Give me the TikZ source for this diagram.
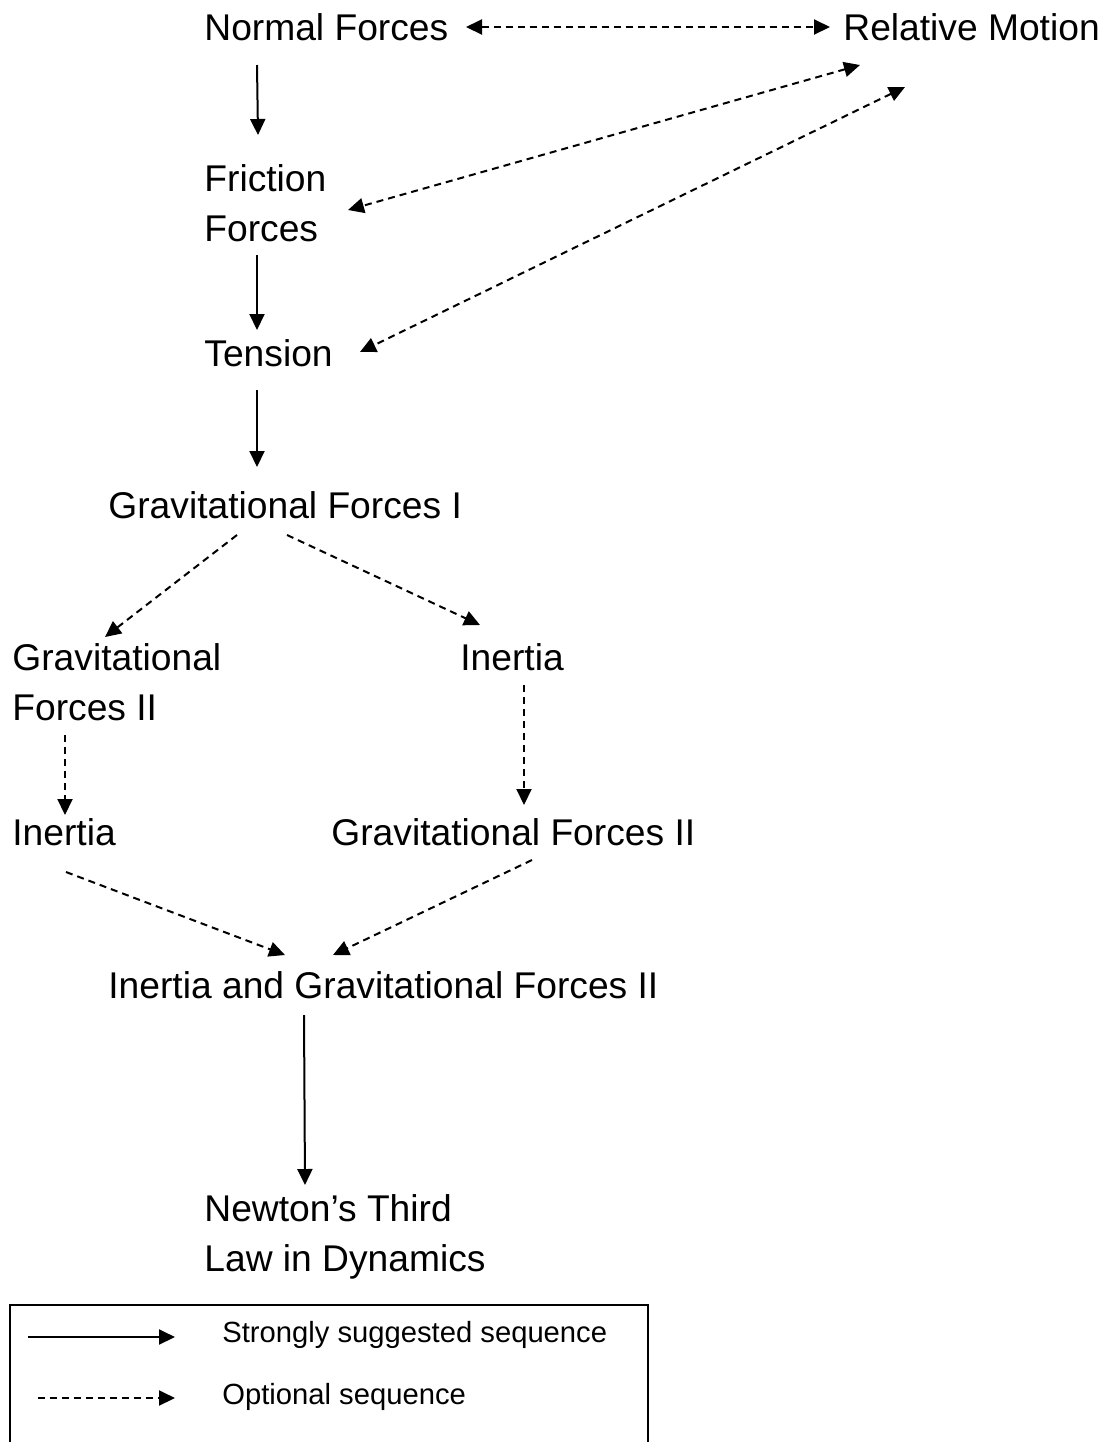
\documentclass[tikz,border=0pt]{standalone}
\usepackage{fontspec}
\setmainfont{Liberation Sans}
\usetikzlibrary{arrows.meta}

\begin{document}
\begin{tikzpicture}[x=0.5pt, y=-0.5pt,
  topic/.style={anchor=west, inner sep=0pt, align=left, font=\fontsize{18.6}{25}\selectfont},
  keytext/.style={anchor=west, inner sep=0pt, font=\fontsize{14.6}{18}\selectfont},
  strong/.style={-{Triangle[length=8pt, width=7.5pt]}, line width=1pt},
  opt/.style={strong, dash pattern=on 3.5pt off 2.5pt},
  optboth/.style={opt, {Triangle[length=8pt, width=7.5pt]}-{Triangle[length=8pt, width=7.5pt]}}]
  \useasboundingbox (0,0) rectangle (1104,1442);

  % topics
  \node[topic] (nf) at (204,27) {Normal Forces};
  \node[topic] (rm) at (843,27) {Relative Motion};
  \node[topic] (fr) at (204,203) {Friction\\Forces};
  \node[topic] (tn) at (204,353) {Tension};
  \node[topic] (g1) at (108,505) {Gravitational Forces I};
  \node[topic] (g2a) at (12,682) {Gravitational\\Forces II};
  \node[topic] (inr) at (460,657) {Inertia};
  \node[topic] (inl) at (12,832) {Inertia};
  \node[topic] (g2b) at (331,832) {Gravitational Forces II};
  \node[topic] (ig) at (108,985) {Inertia and Gravitational Forces II};
  \node[topic] (nt) at (204,1237) {Newton’s Third\\Law in Dynamics};

  % sequences
  \draw[optboth] ([shift={(262,0)}]nf.west) -- ([shift={(-13,0)}]rm.west);
  \draw[strong] ([shift={(53,38)}]nf.west) -- ([shift={(54,-68)}]fr.west);
  \draw[optboth] ([shift={(17,38)}]rm.west) -- ([shift={(144,7)}]fr.west);
  \draw[optboth] ([shift={(62,60)}]rm.west) -- ([shift={(156,-1)}]tn.west);
  \draw[strong] ([shift={(53,52)}]fr.west) -- ([shift={(53,-23)}]tn.west);
  \draw[strong] ([shift={(53,37)}]tn.west) -- ([shift={(149,-38)}]g1.west);
  \draw[opt] ([shift={(129,30)}]g1.west) -- ([shift={(93,-45)}]g2a.west);
  \draw[opt] ([shift={(179,30)}]g1.west) -- ([shift={(20,-32)}]inr.west);
  \draw[opt] ([shift={(53,53)}]g2a.west) -- ([shift={(53,-17)}]inl.west);
  \draw[opt] ([shift={(64,28)}]inr.west) -- ([shift={(193,-27)}]g2b.west);
  \draw[opt] ([shift={(54,40)}]inl.west) -- ([shift={(177,-30)}]ig.west);
  \draw[opt] ([shift={(201,28)}]g2b.west) -- ([shift={(225,-30)}]ig.west);
  \draw[strong] ([shift={(196,30)}]ig.west) -- ([shift={(101,-52)}]nt.west);

  % legend
  \draw[line width=1pt] (10,1305) rectangle (648,1470);
  \node[keytext] (k1) at (222,1335) {Strongly suggested sequence};
  \node[keytext] (k2) at (222,1397) {Optional sequence};
  \coordinate (s1) at (28,1337);
  \coordinate (s2) at (38,1398);
  \draw[strong] (s1) -- ([shift={(-47,2)}]k1.west);
  \draw[opt] (s2) -- ([shift={(-47,1)}]k2.west);
\end{tikzpicture}
\end{document}
